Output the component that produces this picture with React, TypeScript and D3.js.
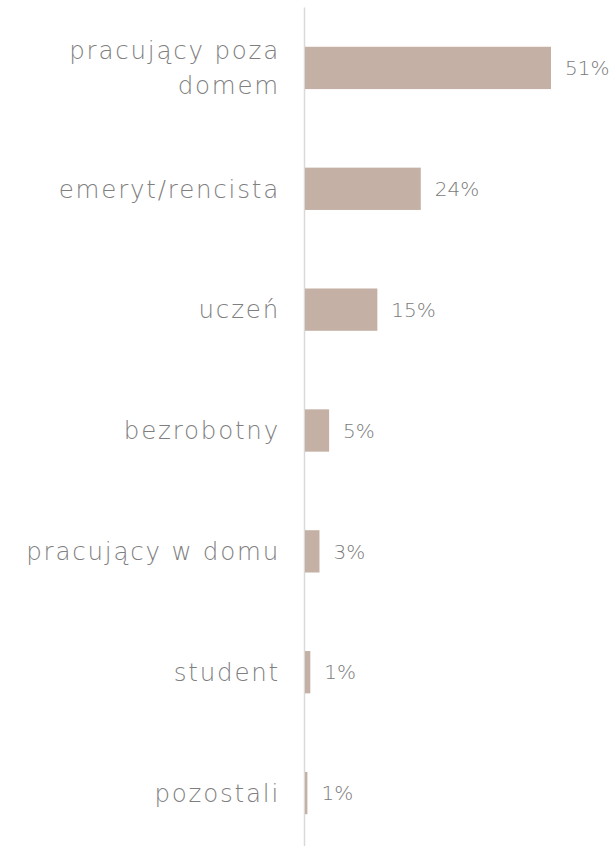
import React from "react";
import * as d3 from "d3";

const categories = ["pracujący poza domem", "emeryt/rencista", "uczeń", "bezrobotny", "pracujący w domu", "student", "pozostali"];
const categoryLines = [["pracujący poza", "domem"], ["emeryt/rencista"], ["uczeń"], ["bezrobotny"], ["pracujący w domu"], ["student"], ["pozostali"]];
const values = [51, 24, 15, 5, 3, 1.1, 0.5];
const valueLabels = ["51%", "24%", "15%", "5%", "3%", "1%", "1%"];

const W = 615, H = 846;
const axisX = 304.5;

export default function App() {
  const y = d3.scaleBand<string>().domain(categories).range([7.5, 853.5]).paddingInner(0.65).paddingOuter(0.325);
  const x = d3.scaleLinear().domain([0, 51]).range([axisX + 0.5, 551]);
  const font = "'DejaVu Sans', sans-serif";
  return (
    <svg width={W} height={H} style={{ position: "absolute", left: 0, top: 0, background: "#fff" }}>
      <line x1={axisX} x2={axisX} y1={y.range()[0]} y2={y.range()[1]} stroke="#d9d9d9" strokeWidth={1.5} />
      {categories.map((c, i) => {
        const yc = (y(c) as number) + y.bandwidth() / 2;
        const lines = categoryLines[i];
        const lh = 35;
        return (
          <g key={c}>
            <rect x={x(0)} y={y(c)} width={x(values[i]) - x(0)} height={y.bandwidth()} fill="#c4b0a4" />
            <text x={x(values[i]) + 14} y={yc} dy="0.36em" fontFamily={font} fontWeight={200} fontSize={20} fill="#7a7a7a">{valueLabels[i]}</text>
            {lines.map((l, j) => (
              <text key={j} x={280} y={yc + (j - (lines.length - 1) / 2) * lh} dy="0.36em" textAnchor="end" fontFamily={font} fontWeight={200} fontSize={24.5} letterSpacing={1.8} fill="#7f7f7f">{l}</text>
            ))}
          </g>
        );
      })}
    </svg>
  );
}
